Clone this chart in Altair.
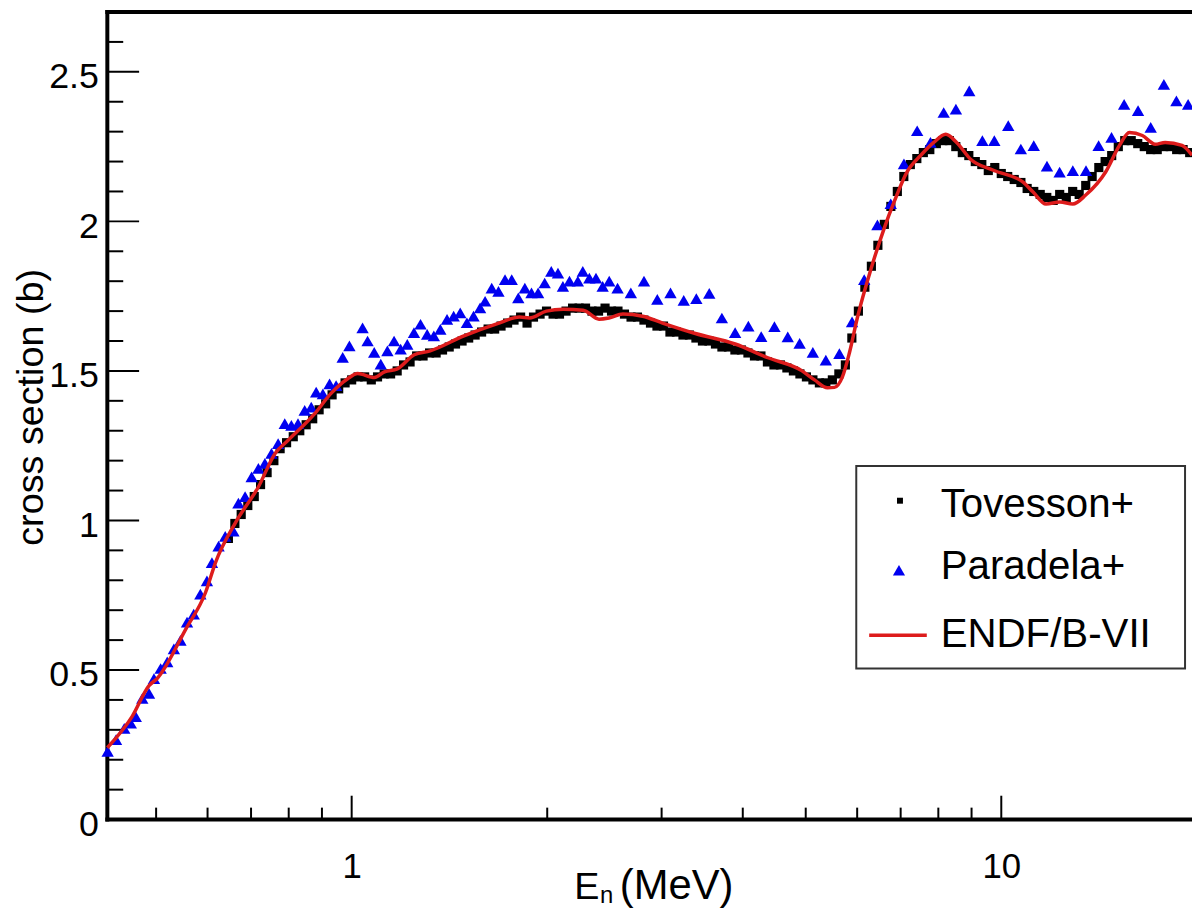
import altair as alt
import pandas as pd

# ---------------- data ----------------
tov_E = [
    0.646, 0.661, 0.676, 0.692, 0.708, 0.724, 0.741, 0.759, 0.776, 0.794,
    0.813, 0.832, 0.851, 0.871, 0.891, 0.912, 0.933, 0.955, 0.977, 1.000,
    1.023, 1.047, 1.072, 1.096, 1.122, 1.148, 1.175, 1.202, 1.230, 1.259,
    1.288, 1.318, 1.349, 1.380, 1.413, 1.445, 1.479, 1.514, 1.549, 1.585,
    1.622, 1.660, 1.698, 1.738, 1.778, 1.820, 1.862, 1.905, 1.950, 1.995,
    2.042, 2.089, 2.138, 2.188, 2.239, 2.291, 2.344, 2.399, 2.455, 2.512,
    2.570, 2.630, 2.692, 2.754, 2.818, 2.884, 2.951, 3.020, 3.090, 3.162,
    3.236, 3.311, 3.388, 3.467, 3.548, 3.631, 3.715, 3.802, 3.890, 3.981,
    4.074, 4.169, 4.266, 4.365, 4.467, 4.571, 4.677, 4.786, 4.898, 5.012,
    5.129, 5.248, 5.370, 5.495, 5.623, 5.754, 5.888, 6.026, 6.166, 6.310,
    6.457, 6.607, 6.761, 6.918, 7.079, 7.244, 7.413, 7.586, 7.762, 7.943,
    8.128, 8.318, 8.511, 8.710, 8.913, 9.120, 9.333, 9.550, 9.772, 10.00,
    10.23, 10.47, 10.72, 10.96, 11.22, 11.48, 11.75, 12.02, 12.30, 12.59,
    12.88, 13.18, 13.49, 13.80, 14.13, 14.45, 14.79, 15.14, 15.49, 15.85,
    16.22, 16.60, 16.98, 17.38, 17.78, 18.20, 18.62, 19.05, 19.50,
]
tov_s = [
    0.94, 0.99, 1.02, 1.05, 1.08, 1.12, 1.16, 1.20, 1.24, 1.26,
    1.28, 1.30, 1.32, 1.34, 1.37, 1.39, 1.42, 1.44, 1.46, 1.47,
    1.48, 1.48, 1.47, 1.48, 1.49, 1.49, 1.50, 1.52, 1.53, 1.55,
    1.55, 1.56, 1.56, 1.57, 1.58, 1.59, 1.60, 1.61, 1.62, 1.63,
    1.64, 1.64, 1.65, 1.66, 1.67, 1.68, 1.66, 1.68, 1.69, 1.70,
    1.69, 1.69, 1.70, 1.71, 1.71, 1.71, 1.70, 1.70, 1.71, 1.70,
    1.70, 1.69, 1.68, 1.68, 1.67, 1.66, 1.65, 1.65, 1.63, 1.63,
    1.62, 1.62, 1.61, 1.60, 1.60, 1.59, 1.58, 1.58, 1.57, 1.57,
    1.56, 1.55, 1.55, 1.53, 1.52, 1.52, 1.51, 1.50, 1.49, 1.48,
    1.47, 1.46, 1.46, 1.47, 1.49, 1.52, 1.61, 1.70, 1.78, 1.85,
    1.92, 1.99, 2.05, 2.10, 2.15, 2.19, 2.21, 2.23, 2.24, 2.26,
    2.27, 2.27, 2.25, 2.23, 2.22, 2.20, 2.19, 2.17, 2.18, 2.16,
    2.15, 2.14, 2.13, 2.11, 2.10, 2.09, 2.08, 2.07, 2.09, 2.08,
    2.10, 2.09, 2.12, 2.15, 2.18, 2.20, 2.22, 2.25, 2.27, 2.27,
    2.26, 2.25, 2.24, 2.24, 2.25, 2.25, 2.24, 2.24, 2.23,
]

par_E = [
    0.4211, 0.4338, 0.4466, 0.4571, 0.4652, 0.4761, 0.4876, 0.4962, 0.5081, 0.5201,
    0.5325, 0.5451, 0.5579, 0.5713, 0.5849, 0.5987, 0.6094, 0.6239, 0.6388, 0.6577,
    0.6694, 0.6854, 0.7015, 0.7184, 0.7352, 0.7526, 0.7706, 0.7889, 0.8076, 0.8268,
    0.8466, 0.8665, 0.8818, 0.9030, 0.9246, 0.9463, 0.9687, 0.9920, 1.0394, 1.0580,
    1.0832, 1.1087, 1.1350, 1.1622, 1.1896, 1.2179, 1.2471, 1.2764, 1.3068, 1.3381,
    1.3693, 1.4022, 1.4355, 1.4693, 1.5045, 1.5403, 1.5765, 1.6047, 1.6429, 1.6826,
    1.7222, 1.7635, 1.8050, 1.8474, 1.8915, 1.9364, 1.9820, 2.0290, 2.0777, 2.1144,
    2.1641, 2.2293, 2.2688, 2.3222, 2.3774, 2.4343, 2.4917, 2.5663, 2.6899, 2.8184,
    2.9545, 3.0960, 3.2446, 3.3929, 3.5521, 3.7144, 3.8930, 4.0798, 4.2700, 4.4751,
    4.6913, 4.8930, 5.1276, 5.3692, 5.6338, 5.8924, 6.1518, 6.4465, 6.7584, 7.0821,
    7.4222, 7.7803, 8.1534, 8.5144, 8.9268, 9.3522, 9.7566, 10.250, 10.718, 11.220,
    11.758, 12.297, 12.886, 13.503, 14.120, 14.781, 15.456, 16.238, 16.983, 17.795,
    18.603, 19.391,
]
par_s = [
    0.228, 0.267, 0.305, 0.322, 0.344, 0.405, 0.422, 0.471, 0.505, 0.527,
    0.571, 0.599, 0.660, 0.687, 0.754, 0.798, 0.859, 0.914, 0.947, 0.964,
    1.058, 1.080, 1.146, 1.174, 1.191, 1.224, 1.257, 1.324, 1.318, 1.324,
    1.368, 1.379, 1.429, 1.423, 1.457, 1.451, 1.545, 1.584, 1.644, 1.600,
    1.562, 1.523, 1.567, 1.600, 1.573, 1.589, 1.628, 1.656, 1.622, 1.617,
    1.639, 1.672, 1.683, 1.694, 1.661, 1.683, 1.711, 1.733, 1.777, 1.766,
    1.805, 1.805, 1.744, 1.777, 1.761, 1.761, 1.794, 1.833, 1.827, 1.783,
    1.800, 1.800, 1.833, 1.810, 1.810, 1.783, 1.800, 1.777, 1.761, 1.800,
    1.739, 1.761, 1.736, 1.742, 1.759, 1.677, 1.628, 1.650, 1.615, 1.648,
    1.614, 1.592, 1.562, 1.536, 1.558, 1.664, 1.805, 1.988, 2.059, 2.192,
    2.303, 2.264, 2.364, 2.375, 2.436, 2.270, 2.270, 2.320, 2.242, 2.253,
    2.185, 2.165, 2.170, 2.170, 2.253, 2.281, 2.391, 2.370, 2.314, 2.458,
    2.403, 2.391,
]

endf_E = [
    0.4206, 0.4594, 0.4876, 0.5015, 0.5555, 0.5959, 0.6173, 0.6625, 0.7184, 0.7627,
    0.7983, 0.8779, 0.9287, 0.9861, 1.0214, 1.0844, 1.1233, 1.1757, 1.2482, 1.3208,
    1.4888, 1.6725, 1.8131, 1.8781, 1.9939, 2.1170, 2.2711, 2.4029, 2.4889, 2.6152,
    2.8054, 3.0104, 3.3812, 3.8930, 4.3723, 4.9284, 5.1582, 5.4014, 5.5361, 5.6945,
    5.8365, 6.0028, 6.3053, 6.6010, 6.8384, 7.1576, 7.5191, 7.8705, 8.2116, 8.5358,
    8.9677, 9.7230, 10.805, 11.194, 11.718, 12.309, 12.886, 13.490, 14.475, 15.205,
    15.748, 16.487, 17.258, 17.876, 18.978, 19.66,
]
endf_s = [
    0.240, 0.345, 0.448, 0.471, 0.637, 0.760, 0.860, 0.993, 1.112, 1.225,
    1.268, 1.358, 1.424, 1.474, 1.491, 1.478, 1.497, 1.507, 1.554, 1.567,
    1.617, 1.657, 1.680, 1.677, 1.700, 1.706, 1.703, 1.673, 1.677, 1.690,
    1.683, 1.660, 1.625, 1.590, 1.544, 1.501, 1.470, 1.444, 1.445, 1.480,
    1.560, 1.677, 1.843, 1.976, 2.065, 2.165, 2.221, 2.264, 2.291, 2.264,
    2.208, 2.171, 2.131, 2.098, 2.058, 2.065, 2.058, 2.088, 2.165, 2.254,
    2.297, 2.287, 2.258, 2.264, 2.254, 2.221,
]

legend_labels = ["Tovesson+", "Paradela+", "ENDF/B-VII"]
x_title = ["E", "n", "(MeV)"]
y_title = "cross section (b)"

x_label_ticks = [1, 10]
x_minor_ticks = [0.5, 0.6, 0.7, 0.8, 0.9, 2, 3, 4, 5, 6, 7, 8, 9]
y_label_ticks = [0, 0.5, 1, 1.5, 2, 2.5]
y_major_ticks = [0.5, 1, 1.5, 2, 2.5]
y_minor_ticks = [0.1, 0.2, 0.3, 0.4, 0.6, 0.7, 0.8, 0.9, 1.1, 1.2, 1.3, 1.4,
                 1.6, 1.7, 1.8, 1.9, 2.1, 2.2, 2.3, 2.4, 2.6]

# ---------------- styling ----------------
W, H = 1092, 813
FONT = "Liberation Sans"
BLUE = "#0000f0"
RED = "#dd1c1c"

xs = alt.Scale(type="log", domain=[0.4206, 19.66], nice=False)
ys = alt.Scale(domain=[0, 2.7], nice=False, zero=False)
xaxis = alt.Axis(values=x_label_ticks, format="~g", title=None, ticks=False, tickSize=0,
                 domain=False, grid=False, labelFontSize=35, labelFont=FONT,
                 labelColor="black", labelPadding=30, labelFlush=False)
yaxis = alt.Axis(values=y_label_ticks, format="~g", title=None, ticks=False, tickSize=0,
                 domain=False, grid=False, labelFontSize=36, labelFont=FONT,
                 labelColor="black", labelPadding=9, labelBaseline="middle",
                 labelOffset=5)
X = alt.X("E:Q", scale=xs, axis=xaxis)
Y = alt.Y("s:Q", scale=ys, axis=yaxis)

one = pd.DataFrame({"a": [0]})

tov = pd.DataFrame({"E": tov_E, "s": tov_s})
par = pd.DataFrame({"E": par_E, "s": par_s})
endf = pd.DataFrame({"E": endf_E, "s": endf_s})

# axis frame
frame_left = alt.Chart(one).mark_rule(color="black", strokeWidth=4).encode(
    x=alt.value(0), y=alt.value(-2), y2=alt.value(H + 2))
frame_top = alt.Chart(one).mark_rule(color="black", strokeWidth=4).encode(
    y=alt.value(0), x=alt.value(-2), x2=alt.value(W))
frame_bottom = alt.Chart(one).mark_rule(color="black", strokeWidth=4).encode(
    y=alt.value(H), x=alt.value(-2), x2=alt.value(W))

# inward ticks
xt_major = alt.Chart(pd.DataFrame({"E": x_label_ticks})).mark_rule(
    color="black", strokeWidth=2).encode(x=X, y=alt.value(H), y2=alt.value(H - 24))
xt_minor = alt.Chart(pd.DataFrame({"E": x_minor_ticks})).mark_rule(
    color="black", strokeWidth=2).encode(x=X, y=alt.value(H), y2=alt.value(H - 12))
yt_major = alt.Chart(pd.DataFrame({"s": y_major_ticks})).mark_rule(
    color="black", strokeWidth=2).encode(y=Y, x=alt.value(0), x2=alt.value(32))
yt_minor = alt.Chart(pd.DataFrame({"s": y_minor_ticks})).mark_rule(
    color="black", strokeWidth=2).encode(y=Y, x=alt.value(0), x2=alt.value(16))

# data
tov_layer = alt.Chart(tov).mark_square(size=85, color="black", opacity=1).encode(x=X, y=Y)
par_layer = alt.Chart(par).mark_point(shape="triangle-up", filled=True, size=155,
                                      color=BLUE, opacity=1).encode(x=X, y=Y)
endf_layer = alt.Chart(endf).mark_line(color=RED, strokeWidth=3.5,
                                       interpolate="monotone").encode(x=X, y=Y)

# legend
leg_box = alt.Chart(one).mark_rect(fill="white", stroke="#333333", strokeWidth=2).encode(
    x=alt.value(754), x2=alt.value(1085), y=alt.value(457), y2=alt.value(661))
leg_sq = alt.Chart(one).mark_square(size=36, color="black", opacity=1).encode(
    x=alt.value(798), y=alt.value(492))
leg_tri = alt.Chart(one).mark_point(shape="triangle-up", filled=True, size=150,
                                    color=BLUE, opacity=1).encode(
    x=alt.value(797), y=alt.value(562))
leg_line = alt.Chart(one).mark_rule(color=RED, strokeWidth=3.5).encode(
    x=alt.value(767), x2=alt.value(825), y=alt.value(627.5))
leg_text = [
    alt.Chart(one).mark_text(font=FONT, fontSize=40.5, align="left", baseline="alphabetic",
                             color="black").encode(
        x=alt.value(839), y=alt.value(yy), text=alt.value(lab))
    for lab, yy in zip(legend_labels, [508, 571, 639])
]

# axis titles
t_E = alt.Chart(one).mark_text(font=FONT, fontSize=38, align="left",
                               baseline="alphabetic", color="black").encode(
    x=alt.value(470), y=alt.value(893), text=alt.value(x_title[0]))
t_n = alt.Chart(one).mark_text(font=FONT, fontSize=24, align="left",
                               baseline="alphabetic", color="black").encode(
    x=alt.value(496), y=alt.value(897), text=alt.value(x_title[1]))
t_unit = alt.Chart(one).mark_text(font=FONT, fontSize=42, align="left",
                                  baseline="alphabetic", color="black").encode(
    x=alt.value(516), y=alt.value(893), text=alt.value(x_title[2]))
t_y = alt.Chart(one).mark_text(font=FONT, fontSize=38, align="center", angle=270,
                               baseline="alphabetic", color="black").encode(
    x=alt.value(-65), y=alt.value(398), text=alt.value(y_title))

chart = alt.layer(
    xt_major, xt_minor, yt_major, yt_minor,
    frame_left, frame_top, frame_bottom,
    tov_layer, par_layer, endf_layer,
    leg_box, leg_sq, leg_tri, leg_line, *leg_text,
    t_E, t_n, t_unit, t_y,
).properties(
    width=W, height=H,
    autosize=alt.AutoSizeParams(type="none"),
    padding={"left": 100, "top": 1, "right": 0, "bottom": 86},
    background="white",
).configure_view(stroke=None)

chart.save("out.html", embed_options={"renderer": "svg", "actions": False})
